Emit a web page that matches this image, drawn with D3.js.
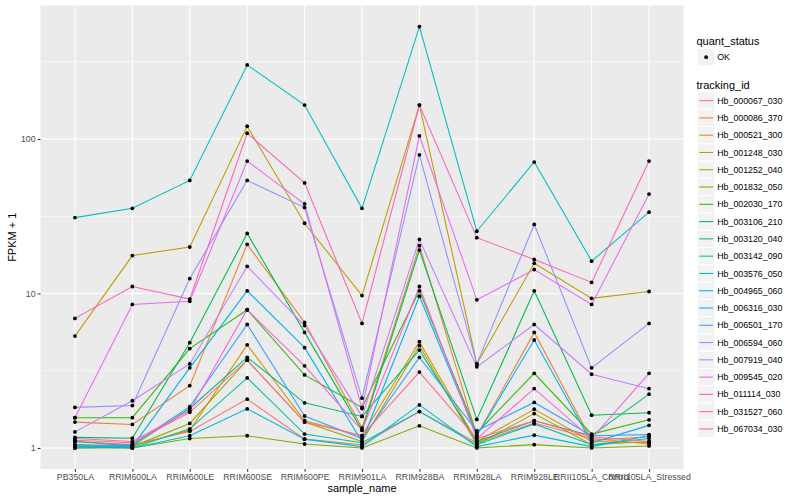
<!DOCTYPE html>
<html>
<head>
<meta charset="utf-8">
<script src="https://cdn.jsdelivr.net/npm/d3@7"></script>
<style>
  body { margin: 0; background: #fff; }
  svg { display: block; font-family: "Liberation Sans", Arial, Helvetica, sans-serif; }
</style>
</head>
<body>
<svg id="chart" width="800" height="500"></svg>
<script>
// samples on the x axis
const samples = ["PB350LA", "RRIM600LA", "RRIM600LE", "RRIM600SE", "RRIM600PE", "RRIM901LA",
  "RRIM928BA", "RRIM928LA", "RRIM928LE", "RRII105LA_Control", "RRII105LA_Stressed"];
const yTicks = [1, 10, 100];
const trackingIds = ["Hb_000067_030", "Hb_000086_370", "Hb_000521_300", "Hb_001248_030", "Hb_001252_040",
  "Hb_001832_050", "Hb_002030_170", "Hb_003106_210", "Hb_003120_040", "Hb_003142_090",
  "Hb_003576_050", "Hb_004965_060", "Hb_006316_030", "Hb_006501_170", "Hb_006594_060",
  "Hb_007919_040", "Hb_009545_020", "Hb_011114_030", "Hb_031527_060", "Hb_067034_030"];
const quantStatus = ["OK"];

// FPKM + 1, one value per sample
const hb_000067_030 = [1.10, 1.05, 1.28, 2.07, 1.14, 1.05, 1.72, 1.08, 1.45, 1.15, 1.06];
const hb_000086_370 = [1.47, 1.42, 2.53, 20.8, 6.5, 1.35, 20.4, 1.20, 5.6, 1.12, 1.18];
const hb_000521_300 = [1.05, 1.03, 1.30, 4.65, 1.50, 1.20, 4.87, 1.10, 1.78, 1.10, 1.08];
const hb_001248_030 = [5.3, 17.6, 20.0, 121, 28.5, 9.7, 166, 3.5, 15.7, 9.3, 10.3];
const hb_001252_040 = [1.02, 1.02, 1.44, 3.7, 1.47, 1.10, 4.6, 1.05, 1.67, 1.05, 1.10];
const hb_001832_050 = [1.00, 1.00, 1.15, 1.20, 1.06, 1.00, 1.39, 1.00, 1.05, 1.00, 1.03];
const hb_002030_170 = [1.57, 1.57, 4.4, 7.85, 2.97, 1.83, 10.4, 1.25, 3.04, 1.23, 1.52];
const hb_003106_210 = [1.17, 1.155, 4.8, 24.5, 5.6, 1.30, 19.1, 1.53, 10.4, 1.63, 1.69];
const hb_003120_040 = [1.10, 1.03, 1.80, 3.86, 1.96, 1.60, 4.3, 1.10, 1.50, 1.20, 2.23];
const hb_003142_090 = [1.05, 1.00, 1.33, 2.84, 1.23, 1.08, 1.72, 1.05, 1.43, 1.05, 1.15];
const hb_003576_050 = [31, 35.6, 54, 302, 166, 35.6, 535, 25.3, 71, 16.2, 33.6];
const hb_004965_060 = [1.02, 1.00, 1.20, 1.79, 1.14, 1.02, 1.90, 1.02, 1.21, 1.02, 1.20];
const hb_006316_030 = [1.00, 1.02, 3.3, 10.4, 4.46, 1.10, 9.6, 1.20, 5.0, 1.08, 1.40];
const hb_006501_170 = [1.03, 1.05, 1.85, 6.3, 1.61, 1.15, 3.86, 1.29, 1.97, 1.20, 1.22];
const hb_006594_060 = [1.83, 1.88, 12.5, 54, 36, 2.1, 79, 3.5, 28, 3.3, 6.4];
const hb_007919_040 = [1.27, 2.02, 3.5, 15, 6.2, 1.6, 22.4, 3.35, 6.3, 3.0, 2.42];
const hb_009545_020 = [1.57, 8.5, 8.9, 72, 38, 1.8, 105, 9.1, 14.3, 8.5, 44];
const hb_011114_030 = [1.15, 1.10, 1.75, 7.85, 3.4, 1.30, 11.1, 1.15, 2.42, 1.15, 3.04];
const hb_031527_060 = [6.9, 11.1, 9.2, 109, 52, 6.4, 166, 23, 16.6, 11.8, 72];
const hb_067034_030 = [1.12, 1.08, 1.70, 3.7, 1.47, 1.20, 3.1, 1.15, 1.50, 1.18, 1.10];

const seriesValues = [hb_000067_030, hb_000086_370, hb_000521_300, hb_001248_030, hb_001252_040,
  hb_001832_050, hb_002030_170, hb_003106_210, hb_003120_040, hb_003142_090,
  hb_003576_050, hb_004965_060, hb_006316_030, hb_006501_170, hb_006594_060,
  hb_007919_040, hb_009545_020, hb_011114_030, hb_031527_060, hb_067034_030];

// ggplot hue palette for 20 levels
const palette = ["#F8766D", "#EA8331", "#D89000", "#C09B00", "#A3A500", "#7CAE00", "#39B600", "#00BB4E",
  "#00BF7D", "#00C1A3", "#00BFC4", "#00BAE0", "#00B0F6", "#35A2FF", "#9590FF", "#C77CFF",
  "#E76BF3", "#FA62DB", "#FF62BC", "#FF6C91"];

const series = trackingIds.map((id, i) => ({ id, color: palette[i], values: seriesValues[i] }));

const svg = d3.select("#chart");
const margin = { top: 5.5, right: 116.5, bottom: 31, left: 40.5 };
const width = +svg.attr("width") - margin.left - margin.right;
const height = +svg.attr("height") - margin.top - margin.bottom;

const g = svg.append("g").attr("transform", `translate(${margin.left},${margin.top})`);

// scales (5% expansion in log space, 0.6 step on the discrete axis like ggplot)
const all = seriesValues.flat();
const lo = Math.log10(d3.min(all)), hi = Math.log10(d3.max(all));
const pad = (hi - lo) * 0.05;
const y = d3.scaleLog().domain([10 ** (lo - pad), 10 ** (hi + pad)]).range([height, 0]);
const x = d3.scalePoint().domain(samples).range([0, width]).padding(0.6);

// panel + grid
g.append("rect").attr("width", width).attr("height", height).attr("fill", "#EBEBEB");
const minor = [-0.5, 0.5, 1.5, 2.5].map(p => 10 ** p).filter(v => v > y.domain()[0] && v < y.domain()[1]);
g.selectAll(".minor").data(minor).join("line")
  .attr("x1", 0).attr("x2", width)
  .attr("y1", d => y(d)).attr("y2", d => y(d))
  .attr("stroke", "#fff").attr("stroke-width", 0.53);
g.selectAll(".majorY").data(yTicks).join("line")
  .attr("x1", 0).attr("x2", width)
  .attr("y1", d => y(d)).attr("y2", d => y(d))
  .attr("stroke", "#fff").attr("stroke-width", 1.07);
g.selectAll(".majorX").data(samples).join("line")
  .attr("x1", d => x(d)).attr("x2", d => x(d))
  .attr("y1", 0).attr("y2", height)
  .attr("stroke", "#fff").attr("stroke-width", 1.07);

// axes
const yAxis = g.append("g")
  .call(d3.axisLeft(y).tickValues(yTicks).tickFormat(d3.format("d")).tickSize(2.75).tickPadding(2.2));
const xAxis = g.append("g").attr("transform", `translate(0,${height})`)
  .call(d3.axisBottom(x).tickSize(2.75).tickPadding(2.2));
[yAxis, xAxis].forEach(a => {
  a.select(".domain").remove();
  a.selectAll(".tick line").attr("stroke", "#333333").attr("stroke-width", 1.07);
  a.selectAll(".tick text").attr("fill", "#4D4D4D").attr("font-size", "8.8px")
    .attr("font-family", "Liberation Sans, Arial, sans-serif");
});

// axis titles
svg.append("text")
  .attr("x", margin.left + width / 2).attr("y", 492)
  .attr("text-anchor", "middle").attr("font-size", "11px")
  .text("sample_name");
svg.append("text")
  .attr("transform", `translate(16,${margin.top + height / 2}) rotate(-90)`)
  .attr("text-anchor", "middle").attr("font-size", "11px")
  .text("FPKM + 1");

// lines
const line = d3.line().x((d, i) => x(samples[i])).y(d => y(d));
g.selectAll(".series").data(series).join("path")
  .attr("fill", "none")
  .attr("stroke", d => d.color)
  .attr("stroke-width", 1.07)
  .attr("d", d => line(d.values));

// points (coloured by quant_status, all OK -> black)
const pts = series.flatMap(s => s.values.map((v, i) => ({ sample: samples[i], v })));
g.selectAll(".pt").data(pts).join("circle")
  .attr("cx", d => x(d.sample)).attr("cy", d => y(d.v))
  .attr("r", 1.9).attr("fill", "#000");

// legends
const lx = 697.5, keySize = 17.28;
const leg = svg.append("g");
leg.append("text").attr("x", lx - 1).attr("y", 45).attr("font-size", "11px").text("quant_status");
quantStatus.forEach((q, i) => {
  const ky = 48.5 + i * keySize;
  leg.append("rect").attr("x", lx).attr("y", ky).attr("width", keySize).attr("height", keySize)
    .attr("fill", "#F2F2F2").attr("stroke", "#fff");
  leg.append("circle").attr("cx", lx + keySize / 2).attr("cy", ky + keySize / 2).attr("r", 1.9).attr("fill", "#000");
  leg.append("text").attr("x", lx + keySize + 2.5).attr("y", ky + keySize / 2 + 3.1)
    .attr("font-size", "8.8px").text(q);
});

leg.append("text").attr("x", lx - 1).attr("y", 88.5).attr("font-size", "11px").text("tracking_id");
const items = leg.selectAll(".item").data(series).join("g")
  .attr("transform", (d, i) => `translate(${lx},${92 + i * keySize})`);
items.append("rect").attr("width", keySize).attr("height", keySize)
  .attr("fill", "#F2F2F2").attr("stroke", "#fff");
items.append("line")
  .attr("x1", 1.7).attr("x2", keySize - 1.7)
  .attr("y1", keySize / 2).attr("y2", keySize / 2)
  .attr("stroke", d => d.color).attr("stroke-width", 1.07);
items.append("text")
  .attr("x", keySize + 2.5).attr("y", keySize / 2 + 3.1)
  .attr("font-size", "8.8px").text(d => d.id);
</script>
</body>
</html>
